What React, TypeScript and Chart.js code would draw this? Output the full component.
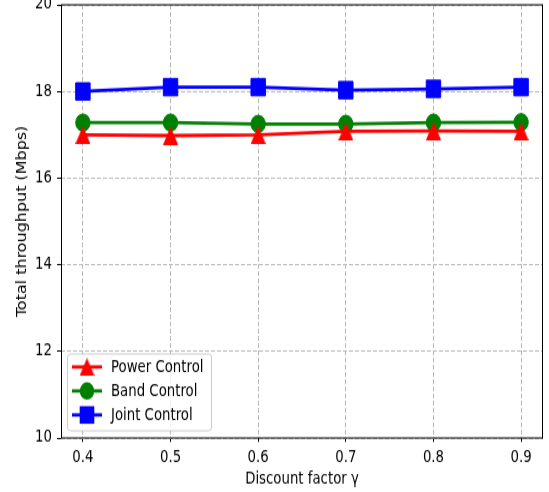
import React, { useEffect, useRef } from 'react';
import { Chart, registerables } from 'chart.js';
Chart.register(...registerables);

const gammas = [0.4, 0.5, 0.6, 0.7, 0.8, 0.9];
const powerControl = [17.0, 16.98, 17.0, 17.08, 17.09, 17.08];
const bandControl = [17.28, 17.28, 17.25, 17.25, 17.28, 17.29];
const jointControl = [18.0, 18.1, 18.1, 18.03, 18.06, 18.1];
const seriesLabels = ['Power Control', 'Band Control', 'Joint Control'];
const yTicks = [10, 12, 14, 16, 18, 20];
const xTitle = 'Discount factor γ';
const yTitle = 'Total throughput (Mbps)';

const FONT = 'DejaVu Sans';
const FS = 13.3;
const STRETCH = 1.2; // the reference picture is stretched vertically
const W = 549;
const H = 492;
const CH = Math.round(H / STRETCH);

function makeTriangle(color: string) {
  const c = document.createElement('canvas');
  c.width = 15;
  c.height = 15;
  const g = c.getContext('2d')!;
  g.fillStyle = color;
  g.beginPath();
  g.moveTo(7.5, 0);
  g.lineTo(15, 15);
  g.lineTo(0, 15);
  g.closePath();
  g.fill();
  return c;
}

export default function App() {
  const ref = useRef<HTMLCanvasElement | null>(null);
  useEffect(() => {
    if (!ref.current) return;
    const tri = makeTriangle('#ff0000');
    const colors = ['#ff0000', '#008000', '#0000ff'];
    const styles: any[] = [tri, 'circle', 'rect'];
    const radii = [8, 7.2, 10.2];
    const values = [powerControl, bandControl, jointControl];

    const framePlugin = {
      id: 'frame',
      afterDatasetsDraw(chart: any) {
        const { ctx, chartArea } = chart;
        ctx.save();
        ctx.strokeStyle = '#000';
        ctx.lineWidth = 1;
        ctx.strokeRect(
          Math.round(chartArea.left) + 0.5,
          chartArea.top,
          Math.round(chartArea.right - chartArea.left) - 1,
          chartArea.bottom - chartArea.top
        );
        ctx.restore();
      },
      afterDraw(chart: any) {
        const ctx = chart.ctx as CanvasRenderingContext2D;
        ctx.save();
        const x0 = 67.5, y0 = 295, w = 144, h = 64, r = 3;
        ctx.beginPath();
        ctx.moveTo(x0 + r, y0);
        ctx.lineTo(x0 + w - r, y0);
        ctx.arcTo(x0 + w, y0, x0 + w, y0 + r, r);
        ctx.lineTo(x0 + w, y0 + h - r);
        ctx.arcTo(x0 + w, y0 + h, x0 + w - r, y0 + h, r);
        ctx.lineTo(x0 + r, y0 + h);
        ctx.arcTo(x0, y0 + h, x0, y0 + h - r, r);
        ctx.lineTo(x0, y0 + r);
        ctx.arcTo(x0, y0, x0 + r, y0, r);
        ctx.closePath();
        ctx.fillStyle = 'rgba(255,255,255,0.8)';
        ctx.fill();
        ctx.strokeStyle = '#cccccc';
        ctx.lineWidth = 1;
        ctx.stroke();
        chart.data.datasets.forEach((ds: any, i: number) => {
          const y = 305.8 + i * 20;
          ctx.strokeStyle = ds.borderColor;
          ctx.lineWidth = 2.8;
          ctx.beginPath();
          ctx.moveTo(72, y);
          ctx.lineTo(102, y);
          ctx.stroke();
          ctx.fillStyle = ds.borderColor;
          const st = ds.pointStyle;
          if (st === 'circle') {
            ctx.beginPath();
            ctx.arc(87, y, 7.2, 0, Math.PI * 2);
            ctx.fill();
          } else if (st === 'rect') {
            ctx.fillRect(87 - 7.3, y - 7.3, 14.6, 14.6);
          } else {
            ctx.drawImage(st, 87 - st.width / 2, y - st.height / 2);
          }
          ctx.fillStyle = '#000';
          ctx.font = `${FS}px "${FONT}"`;
          ctx.textBaseline = 'middle';
          ctx.textAlign = 'left';
          ctx.fillText(ds.label, 111, y + 0.5);
        });
        ctx.restore();
      },
    };

    const chart = new Chart(ref.current, {
      type: 'line',
      data: {
        datasets: seriesLabels.map((label, i) => ({
          label,
          data: gammas.map((x, j) => ({ x, y: values[i][j] })),
          borderColor: colors[i],
          backgroundColor: colors[i],
          pointBackgroundColor: colors[i],
          pointBorderColor: colors[i],
          pointBorderWidth: 1,
          borderWidth: 2.8,
          pointStyle: styles[i],
          pointRadius: radii[i],
          tension: 0,
          fill: false,
        })),
      },
      options: {
        responsive: false,
        animation: false,
        layout: { autoPadding: false, padding: { top: 4, right: 6, left: 0, bottom: 0 } },
        plugins: { legend: { display: false }, tooltip: { enabled: false } },
        scales: {
          x: {
            type: 'linear',
            min: 0.375,
            max: 0.925,
            afterBuildTicks: (s: any) => {
              s.ticks = gammas.map((v) => ({ value: v }));
            },
            afterFit: (s: any) => {
              s.height = CH - 365;
              s.paddingLeft = 0;
              s.paddingRight = 0;
              s.paddingTop = 0;
              s.paddingBottom = 0;
            },
            ticks: {
              callback: (v: any) => Number(v).toFixed(1),
              color: '#000',
              font: { family: FONT, size: FS },
              padding: 5,
              maxRotation: 0,
              autoSkip: false,
            },
            grid: { color: '#b8b8b8', tickColor: '#000', tickLength: 3.3, lineWidth: 1 },
            border: { display: false, dash: [4, 2] },
            title: {
              display: true,
              text: xTitle,
              color: '#000',
              font: { family: FONT, size: FS },
              padding: { top: 0, bottom: 2 },
            },
          },
          y: {
            type: 'linear',
            min: 10,
            max: 20,
            afterBuildTicks: (s: any) => {
              s.ticks = yTicks.map((v) => ({ value: v }));
            },
            afterFit: (s: any) => {
              s.width = 61;
              s.paddingLeft = 0;
              s.paddingRight = 0;
              s.paddingTop = 0;
              s.paddingBottom = 0;
            },
            ticks: {
              color: '#000',
              font: { family: FONT, size: FS },
              padding: 5,
            },
            grid: { color: '#b8b8b8', tickColor: '#000', tickLength: 4, lineWidth: 1 },
            border: { display: false, dash: [4, 2] },
            title: {
              display: true,
              text: yTitle,
              color: '#000',
              font: { family: FONT, size: FS },
              padding: { top: 15, bottom: 0 },
            },
          },
        },
      },
      plugins: [framePlugin],
    } as any);
    return () => chart.destroy();
  }, []);
  return (
    <div style={{ position: 'absolute', left: 0, top: 0, width: W, height: H, overflow: 'hidden', background: '#fff' }}>
      <div style={{ width: W, height: CH, transform: `scale(1, ${STRETCH})`, transformOrigin: '0 0' }}>
        <canvas ref={ref} width={W} height={CH} style={{ width: W, height: CH, display: 'block' }} />
      </div>
    </div>
  );
}
